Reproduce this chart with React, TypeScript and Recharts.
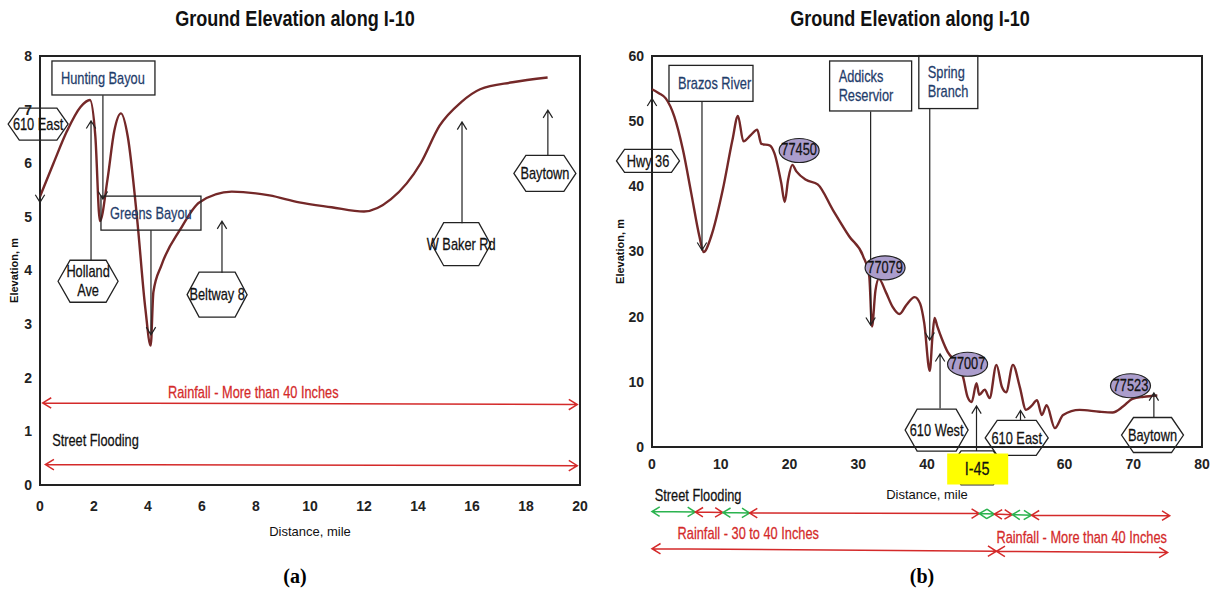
import React from "react";
import { LineChart, Line, XAxis, YAxis, ReferenceArea, ReferenceDot, ReferenceLine } from "recharts";

const FONT = "'Liberation Sans', Arial, sans-serif";
const SQUEEZE = 0.8; // no Calibri here, so narrow the sans a bit
const CURVE = "#742828";
const BLUE = "#1f3d6b";
const RED = "#d42a2a";
const GREEN = "#2bb34f";
const PURPLE = "#ab9dcc";

// (a) I-10 east section, miles
const distA = [0, 0.5, 1.0, 1.5, 1.85, 2.05, 2.22, 2.5, 2.75, 3.0, 3.25, 3.6, 3.9, 4.1, 4.2, 4.5, 5.2, 5.9, 7.1, 8.5, 9.6, 10.8, 12.0, 13.0, 14.1, 14.8, 15.6, 16.3, 17.5, 18.8];
const elevA = [5.38, 6.0, 6.6, 7.05, 7.18, 6.5, 4.92, 5.7, 6.6, 6.93, 6.5, 4.95, 3.3, 2.6, 3.6, 4.1, 4.77, 5.27, 5.47, 5.4, 5.27, 5.18, 5.1, 5.33, 6.0, 6.7, 7.14, 7.38, 7.51, 7.6];
const ticksXA = [0, 2, 4, 6, 8, 10, 12, 14, 16, 18, 20];
const ticksYA = [0, 1, 2, 3, 4, 5, 6, 7, 8];

// (b) whole corridor, miles
const distB = [0, 1, 2, 3.25, 4.5, 5.7, 6.9, 7.5, 8.6, 10.3, 11.7, 12.5, 13.3, 14.4, 15.3, 15.9, 17.1, 17.8, 18.8, 19.3, 19.8, 20.4, 21, 22.4, 24.1, 26.3, 28.7, 30.7, 31.6, 32.0, 32.5, 33.0, 34, 35, 36, 37, 38.2, 39, 39.6, 40.4, 40.8, 41.1, 41.5, 42.2, 43, 44, 44.8, 45.3, 45.9, 46.5, 47.2, 47.6, 48.4, 49.1, 50.1, 50.9, 51.5, 52.5, 53.5, 54.4, 55.2, 56, 56.7, 57.4, 58.6, 59.8, 62.2, 65.1, 67, 68.5, 69.9, 71.5, 73.5];
const elevB = [54.9, 54.3, 53.5, 50.7, 45.6, 39, 32.3, 29.9, 32.3, 39.5, 47.1, 50.8, 46.9, 47.9, 48.7, 46.5, 46.3, 45.1, 40.5, 37.6, 41, 43.3, 42.3, 41, 40.3, 36.4, 32.3, 29.3, 26.2, 18.5, 24, 25.8, 23.8, 21.5, 20.4, 21.8, 23, 22, 19, 11.7, 17, 19.8, 18.5, 16.5, 14.6, 13.3, 12.3, 10.5, 7.7, 6.9, 9.8, 8.0, 8.8, 7.5, 12.6, 9.2, 8.4, 12.6, 9.2, 5.7, 6.3, 7.2, 4.9, 6.4, 2.9, 4.9, 5.7, 5.4, 5.3, 6.2, 7.4, 7.7, 7.9];
const ticksXB = [0, 10, 20, 30, 40, 50, 60, 70, 80];
const ticksYB = [0, 10, 20, 30, 40, 50, 60];

const dataA = distA.map((d, i) => ({ d, e: elevA[i] }));
const dataB = distB.map((d, i) => ({ d, e: elevB[i] }));

// annotations, in chart units
type Tag = { text: string[]; x: number; y: number; w: number; h: number };
type Arrow = { x1: number; y1: number; x2: number; y2: number };

const boxesA: Tag[] = [
  { text: ["Hunting Bayou"], x: 2.35, y: 7.59, w: 103, h: 34 },
  { text: ["Greens Bayou"], x: 4.11, y: 5.07, w: 100, h: 34 },
];
const hexesA: Tag[] = [
  { text: ["610 East"], x: -0.07, y: 6.73, w: 60, h: 32 },
  { text: ["Holland", "Ave"], x: 1.78, y: 3.8, w: 60, h: 42 },
  { text: ["Beltway 8"], x: 6.56, y: 3.55, w: 60, h: 45 },
  { text: ["W Baker Rd"], x: 15.6, y: 4.49, w: 59, h: 43 },
  { text: ["Baytown"], x: 18.7, y: 5.81, w: 62, h: 36 },
];
const arrowsA: Arrow[] = [
  { x1: 2.33, y1: 7.27, x2: 2.33, y2: 5.33 },
  { x1: 4.11, y1: 4.75, x2: 4.11, y2: 2.8 },
  { x1: 0, y1: 7.0, x2: 0, y2: 5.27 },
  { x1: 1.89, y1: 4.19, x2: 1.89, y2: 6.79 },
  { x1: 6.74, y1: 3.96, x2: 6.74, y2: 4.92 },
  { x1: 15.63, y1: 4.88, x2: 15.63, y2: 6.77 },
  { x1: 18.81, y1: 6.15, x2: 18.81, y2: 6.99 },
];
const redArrowsA: Arrow[] = [
  { x1: 0.1, y1: 1.53, x2: 19.9, y2: 1.5 },
  { x1: 0.2, y1: 0.38, x2: 19.9, y2: 0.36 },
];

const boxesB: Tag[] = [
  { text: ["Brazos River"], x: 8.58, y: 55.8, w: 84, h: 36 },
  { text: ["Addicks", "Reservior"], x: 31.8, y: 55.4, w: 82, h: 50 },
  { text: ["Spring", "Branch"], x: 43.1, y: 56.0, w: 59, h: 53 },
];
const hexesB: Tag[] = [
  { text: ["Hwy 36"], x: -0.58, y: 43.9, w: 63, h: 23 },
  { text: ["610 West"], x: 41.4, y: 2.6, w: 63, h: 42 },
  { text: [""], x: 47.3, y: -3.2, w: 56, h: 34 },
  { text: ["610 East"], x: 53.05, y: 1.4, w: 63, h: 35 },
  { text: ["Baytown"], x: 72.8, y: 1.84, w: 62, h: 35 },
];
const zipsB = [
  { text: "77450", x: 21.4, y: 45.5 },
  { text: "77079", x: 33.9, y: 27.5 },
  { text: "77007", x: 45.9, y: 12.7 },
  { text: "77523", x: 69.6, y: 9.4 },
];
const arrowsB: Arrow[] = [
  { x1: 7.27, y1: 53.1, x2: 7.27, y2: 30.2 },
  { x1: 0, y1: 42.2, x2: 0, y2: 53.5 },
  { x1: 31.8, y1: 51.5, x2: 31.8, y2: 18.7 },
  { x1: 40.4, y1: 52, x2: 40.4, y2: 16.4 },
  { x1: 41.9, y1: 5.9, x2: 41.9, y2: 14.3 },
  { x1: 47.2, y1: -0.6, x2: 47.2, y2: 6.3 },
  { x1: 53.6, y1: 4.0, x2: 53.6, y2: 5.6 },
  { x1: 73, y1: 4.6, x2: 73, y2: 8.3 },
];
const floodSpans = [0, 6.3, 10.3, 14.2, 47.6, 49.8, 52.4, 55.2, 75.3];
const floodWet = [true, false, true, false, true, false, true, false];
const rainSpans = [0, 50.1, 75];

const CText = (p: { x: number; y: number; anchor: string; size: number; color: string; weight?: number; children: React.ReactNode }) => (
  <text transform={`translate(${p.x},${p.y}) scale(${SQUEEZE},1)`} textAnchor={p.anchor} fontFamily={FONT}
    fontSize={p.size} fontWeight={p.weight ?? 400} fill={p.color} stroke={p.color} strokeWidth={0.25}>{p.children}</text>
);

const tagText = (lines: string[], cx: number, cy: number, color: string, size: number, anchor: string, x0: number) =>
  lines.map((t, i) => (
    <CText key={i} x={anchor === "start" ? x0 : cx} y={cy + (i - (lines.length - 1) / 2) * (size + 3) + size * 0.36}
      anchor={anchor} size={size} color={color}>{t}</CText>
  ));

const boxShape = (t: Tag) => (p: any) => (
  <g>
    <rect x={p.cx - t.w / 2} y={p.cy - t.h / 2} width={t.w} height={t.h} fill="none" stroke="#222" strokeWidth={1.3} />
    {tagText(t.text, p.cx, p.cy, BLUE, 16, "start", p.cx - t.w / 2 + 9)}
  </g>
);

const hexShape = (t: Tag) => (p: any) => {
  const { cx, cy } = p;
  const a = t.w / 2, b = t.h / 2, k = Math.min(12, t.h * 0.35);
  const pts = [[cx - a, cy], [cx - a + k, cy - b], [cx + a - k, cy - b], [cx + a, cy], [cx + a - k, cy + b], [cx - a + k, cy + b]];
  return (
    <g>
      <polygon points={pts.map((q) => q.join(",")).join(" ")} fill="none" stroke="#222" strokeWidth={1.3} />
      {tagText(t.text, cx, cy, "#111", 16, "middle", cx)}
    </g>
  );
};

const zipShape = (text: string) => (p: any) => (
  <g>
    <ellipse cx={p.cx} cy={p.cy} rx={20} ry={12} fill={PURPLE} stroke="#222" strokeWidth={1.2} />
    <CText x={p.cx} y={p.cy + 5} anchor="middle" size={16} color="#111">{text}</CText>
  </g>
);

const labelShape = (text: string, color: string, anchor: string) => (p: any) => (
  <CText x={p.cx} y={p.cy + 5} anchor={anchor} size={16} color={color}>{text}</CText>
);

const i45Shape = (p: any) => (
  <g>
    <rect x={p.cx - 30} y={p.cy - 15} width={61} height={31} fill="#ffff00" />
    <CText x={p.cx} y={p.cy + 6} anchor="middle" size={18} color="#111">I-45</CText>
  </g>
);

const arrowShape = (color: string, width: number, both: boolean, size: number) => (p: any) => {
  const { x1, y1, x2, y2 } = p;
  const ang = Math.atan2(y2 - y1, x2 - x1);
  const head = (x: number, y: number, th: number) => {
    const l = [x - size * Math.cos(th - 0.55), y - size * Math.sin(th - 0.55)];
    const r = [x - size * Math.cos(th + 0.55), y - size * Math.sin(th + 0.55)];
    return `M${l[0]},${l[1]} L${x},${y} L${r[0]},${r[1]}`;
  };
  let d = `M${x1},${y1} L${x2},${y2} ` + head(x2, y2, ang);
  if (both) d += " " + head(x1, y1, ang + Math.PI);
  return <path d={d} fill="none" stroke={color} strokeWidth={width} />;
};

const tickStyle = { fontFamily: FONT, fontSize: 14, fontWeight: 700, fill: "#222" };
const axisTitle = { fontFamily: FONT, fontSize: 13, fill: "#111" };
const yTitle = { fontFamily: FONT, fontSize: 11, fontWeight: 700, fill: "#111", textAnchor: "middle" as const };

const titleStyle: React.CSSProperties = {
  position: "absolute", top: 6, width: 420, textAlign: "center", fontFamily: FONT,
  fontWeight: 700, fontSize: 22, color: "#111", transform: "scaleX(0.82)",
};
const subStyle: React.CSSProperties = {
  position: "absolute", top: 565, width: 60, textAlign: "center",
  fontFamily: "'Liberation Serif', serif", fontWeight: 700, fontSize: 20, color: "#000",
};

export default function App() {
  return (
    <div style={{ position: "absolute", left: 0, top: 0, width: 1212, height: 595, background: "#fff", overflow: "hidden" }}>
      <div style={{ ...titleStyle, left: 85 }}>Ground Elevation along I-10</div>
      <div style={{ ...titleStyle, left: 700 }}>Ground Elevation along I-10</div>
      <div style={{ ...subStyle, left: 265 }}>(a)</div>
      <div style={{ ...subStyle, left: 892 }}>(b)</div>

      <div style={{ position: "absolute", left: 0, top: 0 }}>
        <LineChart width={600} height={595} data={dataA} margin={{ top: 56, right: 20, bottom: 60, left: 0 }}>
          <ReferenceArea x1={0} x2={20} y1={0} y2={8} fill="none" stroke="#222" strokeWidth={2} ifOverflow="visible" />
          <XAxis dataKey="d" type="number" domain={[0, 20]} ticks={ticksXA} height={50} tickLine={false} axisLine={false}
            tick={tickStyle} tickMargin={10} label={{ value: "Distance, mile", position: "insideBottom", offset: -1, style: axisTitle }} />
          <YAxis type="number" domain={[0, 8]} ticks={ticksYA} width={40} tickLine={false} axisLine={false}
            tick={tickStyle} label={{ value: "Elevation, m", angle: -90, position: "insideLeft", offset: 14, style: yTitle }} />
          <Line dataKey="e" type="monotone" stroke={CURVE} strokeWidth={2.4} dot={false} isAnimationActive={false} />
          {boxesA.map((t, i) => <ReferenceDot key={"b" + i} x={t.x} y={t.y} ifOverflow="visible" shape={boxShape(t)} />)}
          {hexesA.map((t, i) => <ReferenceDot key={"h" + i} x={t.x} y={t.y} ifOverflow="visible" shape={hexShape(t)} />)}
          {arrowsA.map((a, i) => (
            <ReferenceLine key={"a" + i} segment={[{ x: a.x1, y: a.y1 }, { x: a.x2, y: a.y2 }]} ifOverflow="visible" shape={arrowShape("#222", 1.2, false, 9)} />
          ))}
          {redArrowsA.map((a, i) => (
            <ReferenceLine key={"r" + i} segment={[{ x: a.x1, y: a.y1 }, { x: a.x2, y: a.y2 }]} ifOverflow="visible" shape={arrowShape(RED, 1.5, true, 10)} />
          ))}
          <ReferenceDot x={7.9} y={1.72} ifOverflow="visible" shape={labelShape("Rainfall - More than 40  Inches", RED, "middle")} />
          <ReferenceDot x={0.45} y={0.82} ifOverflow="visible" shape={labelShape("Street Flooding", "#111", "start")} />
        </LineChart>
      </div>

      <div style={{ position: "absolute", left: 600, top: 0 }}>
        <LineChart width={612} height={595} data={dataB} margin={{ top: 56, right: 10, bottom: 98, left: 0 }}>
          <ReferenceArea x1={0} x2={80} y1={0} y2={60} fill="none" stroke="#222" strokeWidth={2} ifOverflow="visible" />
          <XAxis dataKey="d" type="number" domain={[0, 80]} ticks={ticksXB} height={50} tickLine={false} axisLine={false}
            tick={tickStyle} tickMargin={6} tickFormatter={(v: number) => (v === 50 ? "" : String(v))}
            label={{ value: "Distance, mile", position: "insideBottom", offset: -2, style: axisTitle }} />
          <YAxis type="number" domain={[0, 60]} ticks={ticksYB} width={52} tickLine={false} axisLine={false}
            tick={tickStyle} label={{ value: "Elevation, m", angle: -90, position: "insideLeft", offset: 20, style: yTitle }} />
          <Line dataKey="e" type="monotone" stroke={CURVE} strokeWidth={2.4} dot={false} isAnimationActive={false} />
          {boxesB.map((t, i) => <ReferenceDot key={"b" + i} x={t.x} y={t.y} ifOverflow="visible" shape={boxShape(t)} />)}
          {hexesB.map((t, i) => <ReferenceDot key={"h" + i} x={t.x} y={t.y} ifOverflow="visible" shape={hexShape(t)} />)}
          {arrowsB.map((a, i) => (
            <ReferenceLine key={"a" + i} segment={[{ x: a.x1, y: a.y1 }, { x: a.x2, y: a.y2 }]} ifOverflow="visible" shape={arrowShape("#222", 1.2, false, 9)} />
          ))}
          {zipsB.map((z, i) => <ReferenceDot key={"z" + i} x={z.x} y={z.y} ifOverflow="visible" shape={zipShape(z.text)} />)}
          <ReferenceDot x={47.3} y={-3.3} ifOverflow="visible" shape={i45Shape} />
          {floodWet.map((wet, i) => (
            <ReferenceLine key={"f" + i} segment={[{ x: floodSpans[i], y: -9.9 - i * 0.08 }, { x: floodSpans[i + 1], y: -9.9 - (i + 1) * 0.08 }]}
              ifOverflow="visible" shape={arrowShape(wet ? GREEN : RED, 1.5, true, 9)} />
          ))}
          {rainSpans.slice(1).map((x, i) => (
            <ReferenceLine key={"w" + i} segment={[{ x: rainSpans[i], y: -15.6 - i * 0.4 }, { x, y: -16.0 - i * 0.2 }]}
              ifOverflow="visible" shape={arrowShape(RED, 1.5, true, 10)} />
          ))}
          <ReferenceDot x={0.4} y={-7.5} ifOverflow="visible" shape={labelShape("Street Flooding", "#111", "start")} />
          <ReferenceDot x={14} y={-13.4} ifOverflow="visible" shape={labelShape("Rainfall - 30 to 40  Inches", RED, "middle")} />
          <ReferenceDot x={62.5} y={-13.9} ifOverflow="visible" shape={labelShape("Rainfall - More than 40  Inches", RED, "middle")} />
        </LineChart>
      </div>
    </div>
  );
}
